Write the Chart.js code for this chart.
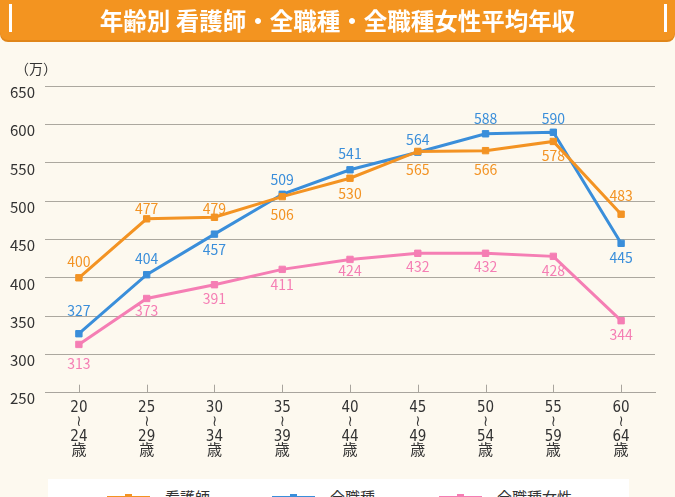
<!DOCTYPE html>
<html lang="ja">
<head>
<meta charset="utf-8">
<script src="https://cdn.jsdelivr.net/npm/chart.js@4.4.1/dist/chart.umd.min.js"></script>
<style>
  html, body { margin: 0; padding: 0; }
  body {
    width: 675px; height: 497px; overflow: hidden; position: relative;
    background: #fdf9ef;
    font-family: "Noto Sans CJK JP", "Noto Sans", sans-serif;
  }
  #title {
    position: absolute; left: 0; top: 0; width: 675px; height: 40px;
    background: #f39420; border-radius: 0 0 8px 8px;
    box-shadow: 0 2px 0 #e0861a;
    color: #fff; font-weight: bold; font-size: 23.5px;
    line-height: 40px; text-align: center;
  }
  #title .bar { position: absolute; top: 4px; width: 2.5px; height: 28px; background: #fff; }
  #unit { position: absolute; left: 15px; top: 58px; font-size: 14px; color: #333; }
  #wrap { position: absolute; left: 0; top: 0; width: 675px; height: 497px; }
  #legend {
    position: absolute; left: 48px; top: 479px; width: 581px; height: 40px;
    background: #fff;
  }
  .item { position: absolute; top: 8px; font-size: 15px; color: #333; line-height: 20px; }
  .item i { position: absolute; top: 9px; left: -58px; width: 43px; height: 3px; }
  .item i b { position: absolute; left: 18px; top: -2px; width: 7px; height: 7px; }
</style>
</head>
<body>
<div id="wrap"><canvas id="chart"></canvas></div>
<div id="title">
  <span class="bar" style="left:9px"></span>
  年齢別 看護師・全職種・全職種女性平均年収
  <span class="bar" style="left:664px"></span>
</div>
<div id="unit">（万）</div>
<div id="legend">
  <div class="item" style="left:117px"><i style="background:#f39323"><b style="background:#f39323"></b></i>看護師</div>
  <div class="item" style="left:282px"><i style="background:#3a8eda"><b style="background:#3a8eda"></b></i>全職種</div>
  <div class="item" style="left:449px"><i style="background:#f57eb4"><b style="background:#f57eb4"></b></i>全職種女性</div>
</div>
<script>
// Age groups (x-axis)
const ageGroups = [
  ['20', '≀', '24', '歳'], ['25', '≀', '29', '歳'], ['30', '≀', '34', '歳'],
  ['35', '≀', '39', '歳'], ['40', '≀', '44', '歳'], ['45', '≀', '49', '歳'],
  ['50', '≀', '54', '歳'], ['55', '≀', '59', '歳'], ['60', '≀', '64', '歳']
];

// Average annual income (万円)
const nurse = [400, 477, 479, 506, 530, 565, 566, 578, 483];
const allJobs = [327, 404, 457, 509, 541, 564, 588, 590, 445];
const allJobsWomen = [313, 373, 391, 411, 424, 432, 432, 428, 344];

// Vertical shift (px) of each value label from its point, negative = above
const nurseLabelDy = [-16.5, -10.5, -9, 18.5, 15, 18.5, 19, 14.5, -19];
const allJobsLabelDy = [-23, -16, 15.5, -15, -16, -12.5, -15, -13.5, 14.5];
const womenLabelDy = [19.5, 12.5, 13.5, 15.5, 11.5, 13, 13, 14, 14];

const yMin = 250;
const yMax = 650;
const yStep = 50;

const FONT = '"Noto Sans CJK JP", "Noto Sans", sans-serif';

// value labels above / below points
const valueLabels = {
  id: 'valueLabels',
  afterDatasetsDraw(chart) {
    const ctx = chart.ctx;
    ctx.save();
    ctx.font = '14px ' + FONT;
    ctx.textAlign = 'center';
    ctx.textBaseline = 'middle';
    chart.data.datasets.forEach((ds, i) => {
      const meta = chart.getDatasetMeta(i);
      meta.data.forEach((pt, j) => {
        ctx.fillStyle = ds.borderColor;
        ctx.fillText(ds.data[j], pt.x, pt.y + ds.labelDy[j]);
      });
    });
    ctx.restore();
  }
};

// short tick marks pointing up from the x axis
const upTicks = {
  id: 'upTicks',
  beforeDatasetsDraw(chart) {
    const ctx = chart.ctx;
    const xs = chart.scales.x;
    const bottom = chart.chartArea.bottom;
    ctx.save();
    ctx.strokeStyle = '#a9a59e';
    ctx.lineWidth = 1;
    xs.ticks.forEach((t, i) => {
      const x = Math.round(xs.getPixelForTick(i)) + 0.5;
      ctx.beginPath();
      ctx.moveTo(x, bottom - 8);
      ctx.lineTo(x, bottom);
      ctx.stroke();
    });
    ctx.restore();
  }
};

function series(label, data, color, labelDy) {
  return {
    label: label,
    data: data,
    labelDy: labelDy,
    borderColor: color,
    backgroundColor: color,
    pointBackgroundColor: color,
    pointBorderColor: color,
    borderWidth: 3,
    pointStyle: 'rect',
    pointRadius: 4.5,
    pointBorderWidth: 1,
    tension: 0
  };
}

const ctx = document.getElementById('chart').getContext('2d');
const chart = new Chart(ctx, {
  type: 'line',
  data: {
    labels: ageGroups,
    datasets: [
      series('看護師', nurse, '#f39323', nurseLabelDy),
      series('全職種', allJobs, '#3a8eda', allJobsLabelDy),
      series('全職種女性', allJobsWomen, '#f57eb4', womenLabelDy)
    ]
  },
  options: {
    responsive: true,
    maintainAspectRatio: false,
    animation: false,
    layout: { padding: { left: 0, right: 20, top: 86.3, bottom: 0 } },
    plugins: {
      legend: { display: false },
      tooltip: { enabled: false }
    },
    scales: {
      x: {
        offset: true,
        grid: { display: false, drawTicks: false },
        border: { display: true, color: '#a9a59e', width: 1 },
        ticks: {
          color: '#333',
          font: { family: '"DejaVu Sans Condensed", "Noto Sans CJK JP", sans-serif', size: 15, lineHeight: 0.967 },
          padding: 8,
          maxRotation: 0,
          autoSkip: false
        },
        afterFit(scale) { scale.height = 104.3; }
      },
      y: {
        min: yMin,
        max: yMax,
        grid: { color: '#aca89f', lineWidth: 1, drawTicks: false },
        border: { display: false },
        ticks: {
          stepSize: yStep,
          color: '#333',
          font: { family: FONT, size: 15 },
          padding: 10,
          labelOffset: 6
        },
        afterFit(scale) { scale.width = 45; }
      }
    }
  },
  plugins: [upTicks, valueLabels]
});
</script>
</body>
</html>
